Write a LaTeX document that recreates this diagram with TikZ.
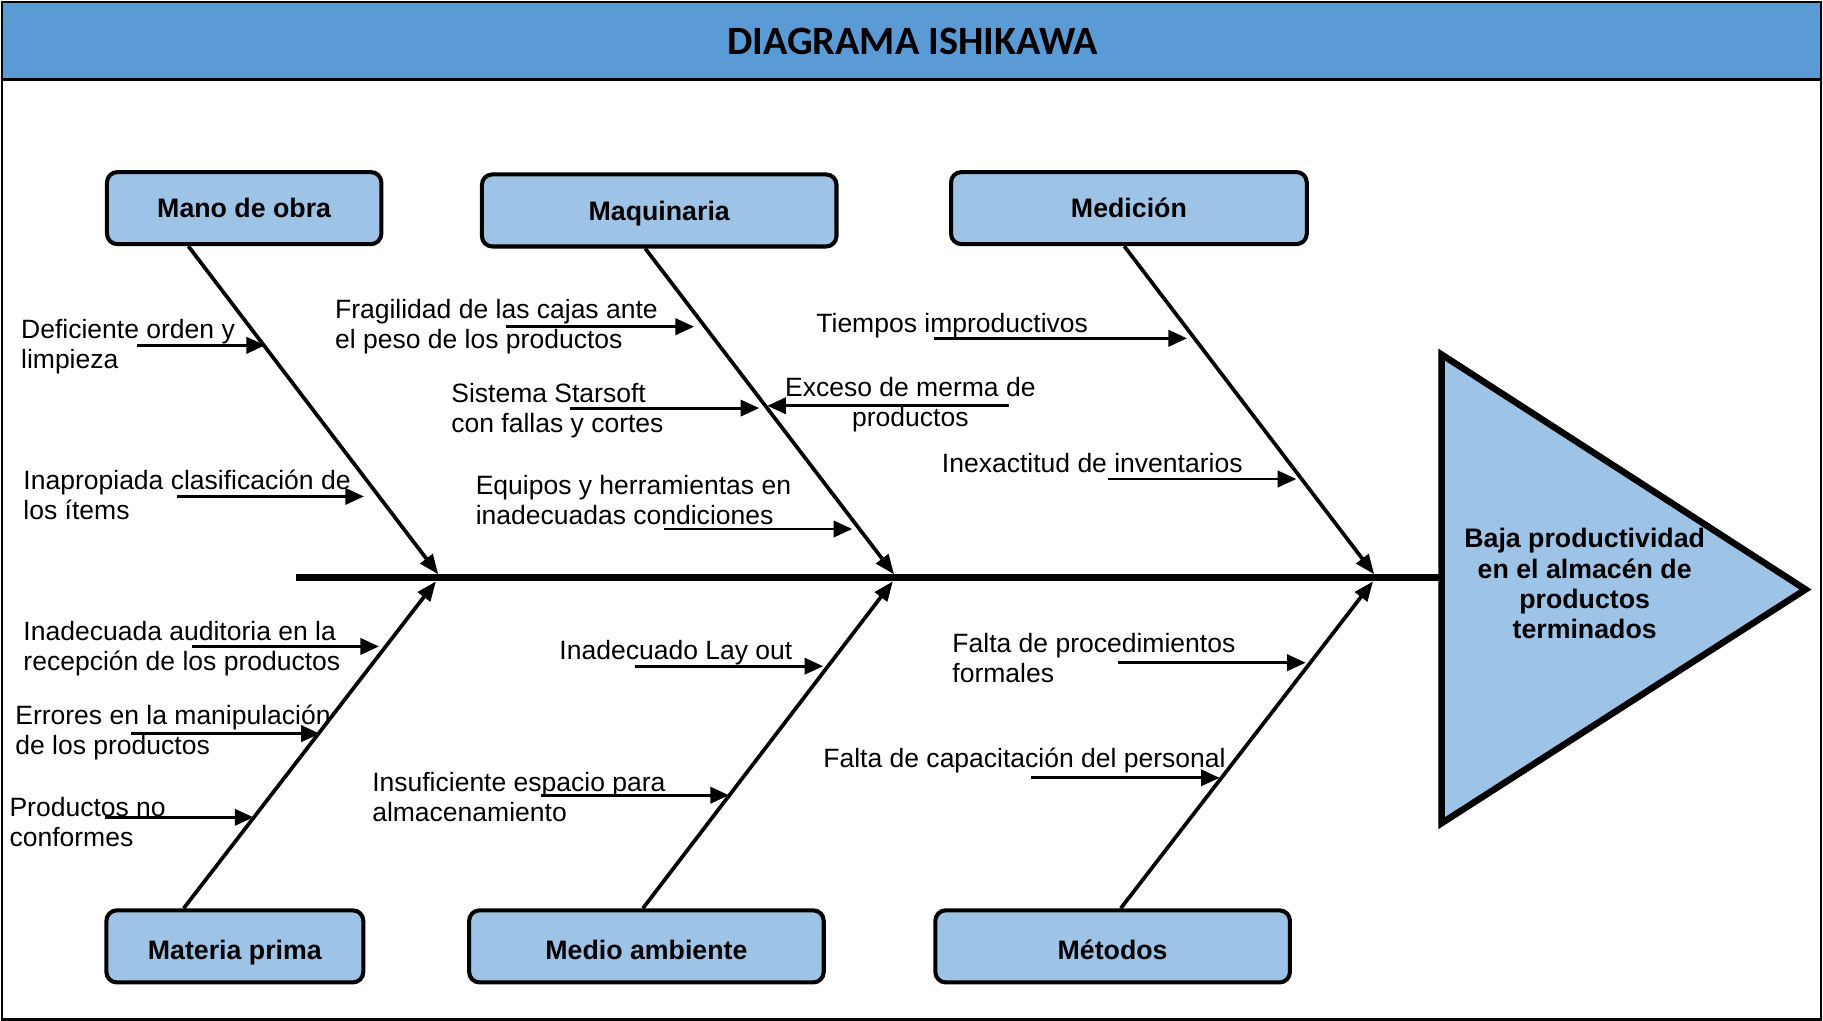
\documentclass[tikz,border=0pt]{standalone}
\usepackage{fontspec}
\setmainfont{Liberation Sans}
\newfontfamily\titlefont{Carlito}
\usetikzlibrary{arrows.meta,calc}
\definecolor{bandblue}{HTML}{5B9BD5}
\definecolor{boxblue}{HTML}{9DC3E6}
\tikzset{
  catbox/.style={draw=black,line width=3.5pt,fill=boxblue,rounded corners=9pt,minimum height=62pt,inner sep=0pt,
    text height=16.5pt,text depth=0pt,font=\fontsize{23}{26}\selectfont\bfseries},
  cause/.style={inner sep=0pt,align=left,anchor=west,yshift=-2pt,font=\fontsize{22.8}{26}\selectfont},
  bone/.style={line width=3.2pt,-{Triangle[length=17pt,width=13pt]}},
  sub/.style={line width=2.5pt,-{Triangle[length=16pt,width=14pt]}},
}
\begin{document}
\begin{tikzpicture}[x=1pt,y=-1pt]
\useasboundingbox (0,0) rectangle (1568,878);
% frame and title band
\fill[bandblue] (2,2) rectangle (1566,68);
\draw[line width=2.5pt] (2,68) -- (1566,68);
\draw[line width=2pt] (2,2) rectangle (1566,877);
\node[font=\titlefont\fontsize{34.6}{36}\selectfont\bfseries] (title) at (785,36) {DIAGRAMA ISHIKAWA};
% head
\coordinate (hw) at (1240,497);
\filldraw[fill=boxblue,draw=black,line width=5.6pt,line join=miter] (1240,305) -- (1553,507) -- (1240,708) -- cycle;
\node[align=center,inner sep=0pt,font=\fontsize{23}{26}\selectfont\bfseries] (effect) at (1363,502)
  {Baja productividad\\en el almacén de\\productos\\terminados};
% spine
\coordinate (tail) at (255,497);
\draw[line width=6pt] (tail) -- (hw);
% category boxes
\node[catbox,minimum width=236pt] (mano) at (210,179) {Mano de obra};
\node[catbox,minimum width=305pt] (maq) at (567,181) {Maquinaria};
\node[catbox,minimum width=306pt] (med) at (971,179) {Medición};
\node[catbox,minimum width=221pt] (mat) at (202,814) {\raisebox{-3pt}{Materia prima}};
\node[catbox,minimum width=305pt] (amb) at (556,814) {\raisebox{-3pt}{Medio ambiente}};
\node[catbox,minimum width=305pt] (met) at (957,814) {\raisebox{-3pt}{Métodos}};
% junctions on the spine
\coordinate (j1) at (377,494);
\coordinate (j2) at (769,494);
\coordinate (j3) at (1182,494);
\coordinate (k1) at (375,500);
\coordinate (k2) at (768,500);
\coordinate (k3) at (1181,500);
% bones
\draw[bone] ($(mano.south)+(-48,0)$) -- (j1);
\draw[bone] ($(maq.south)+(-12,0)$) -- (j2);
\draw[bone] ($(med.south)+(-4,0)$) -- (j3);
\draw[bone] ($(mat.north)+(-44,0)$) -- (k1);
\draw[bone] ($(amb.north)+(-3,0)$) -- (k2);
\draw[bone] ($(met.north)+(7,0)$) -- (k3);
% causes: Mano de obra
\node[cause] (c1) at (18,296) {Deficiente orden y\\limpieza};
\coordinate (a1s) at (118,297); \coordinate (a1e) at (228,297);
\draw[sub] (a1s) -- (a1e);
\node[cause] (c2) at (20,423.5) {Inapropiada clasificación de\\los ítems};
\coordinate (a2s) at (152,427); \coordinate (a2e) at (313,427);
\draw[sub] (a2s) -- (a2e);
% Maquinaria
\node[cause] (c3) at (288,279) {Fragilidad de las cajas ante\\el peso de los productos};
\coordinate (a3s) at (435,281); \coordinate (a3e) at (597,281);
\draw[sub] (a3s) -- (a3e);
\node[cause] (c4) at (388,351) {Sistema Starsoft\\con fallas y cortes};
\coordinate (a4s) at (490,351); \coordinate (a4e) at (653,351);
\draw[sub] (a4s) -- (a4e);
\node[cause,align=center,anchor=center] (c5) at (783,346) {Exceso de merma de\\productos};
\coordinate (a5s) at (868,349); \coordinate (a5e) at (660,349);
\draw[sub] (a5s) -- (a5e);
\node[cause] (c6) at (409,428) {Equipos y herramientas en\\inadecuadas condiciones};
\coordinate (a6s) at (571,455); \coordinate (a6e) at (733,455);
\draw[sub] (a6s) -- (a6e);
% Medicion
\node[cause] (c7) at (702,278) {Tiempos improductivos};
\coordinate (a7s) at (803,291); \coordinate (a7e) at (1021,291);
\draw[sub] (a7s) -- (a7e);
\node[cause] (c8) at (810,396) {Inexactitud de inventarios};
\coordinate (a8s) at (953,412); \coordinate (a8e) at (1115,412);
\draw[sub] (a8s) -- (a8e);
% Materia prima
\node[cause] (c9) at (20,556) {Inadecuada auditoria en la\\recepción de los productos};
\coordinate (a9s) at (165,556); \coordinate (a9e) at (326,556);
\draw[sub] (a9s) -- (a9e);
\node[cause] (c10) at (13,628) {Errores en la manipulación\\de los productos};
\coordinate (a10s) at (113,631); \coordinate (a10e) at (275,631);
\draw[sub] (a10s) -- (a10e);
\node[cause] (c11) at (8,705) {Productos no\\conformes};
\coordinate (a11s) at (90,703); \coordinate (a11e) at (218,703);
\draw[sub] (a11s) -- (a11e);
% Medio ambiente
\node[cause] (c12) at (481,559) {Inadecuado Lay out};
\coordinate (a12s) at (546,573); \coordinate (a12e) at (708,573);
\draw[sub] (a12s) -- (a12e);
\node[cause] (c13) at (320,683.5) {Insuficiente espacio para\\almacenamiento};
\coordinate (a13s) at (465,684); \coordinate (a13e) at (627,684);
\draw[sub] (a13s) -- (a13e);
% Metodos
\node[cause] (c14) at (819,564) {Falta de procedimientos\\formales};
\coordinate (a14s) at (962,570); \coordinate (a14e) at (1123,570);
\draw[sub] (a14s) -- (a14e);
\node[cause] (c15) at (708,652) {Falta de capacitación del personal};
\coordinate (a15s) at (887,669); \coordinate (a15e) at (1049,669);
\draw[sub] (a15s) -- (a15e);
\end{tikzpicture}
\end{document}
